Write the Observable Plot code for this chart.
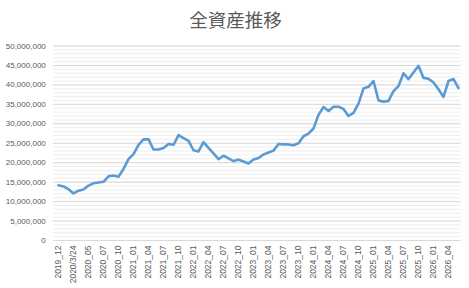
<!DOCTYPE html>
<html>
<head>
<meta charset="utf-8">
<script src="https://cdn.jsdelivr.net/npm/d3@7"></script>
<script src="https://cdn.jsdelivr.net/npm/@observablehq/plot@0.6"></script>
<style>
  html, body { margin: 0; padding: 0; background: #fff; }
  #wrap { width: 469px; height: 288px; position: relative; overflow: hidden; }
  #title { height: 30px; line-height: 40px; text-align: center; font-family: "Noto Sans CJK JP", sans-serif; font-size: 18.5px; color: #595959; position: relative; left: 1px; top: -1px;}
</style>
</head>
<body>
<div id="wrap">
  <div id="title">全資産推移</div>
  <div id="chart"></div>
</div>
<script>
// Total assets, in millions of yen, one value per period (81 points)
const totalMillions = [
  14.2, 13.9, 13.2, 12.1, 12.8, 13.1, 14.1, 14.7, 14.9, 15.1,
  16.5, 16.7, 16.4, 18.4, 20.9, 22.2, 24.6, 26.0, 26.0, 23.4,
  23.4, 23.8, 24.8, 24.6, 27.1, 26.3, 25.6, 23.2, 22.9, 25.3,
  23.8, 22.4, 20.9, 21.8, 21.1, 20.4, 20.8, 20.3, 19.8, 20.8,
  21.2, 22.1, 22.6, 23.1, 24.8, 24.7, 24.7, 24.5, 25.0, 26.8,
  27.5, 28.8, 32.3, 34.3, 33.3, 34.4, 34.4, 33.8, 32.0, 32.8,
  35.2, 39.1, 39.5, 41.0, 36.0, 35.7, 35.9, 38.4, 39.7, 43.0,
  41.5, 43.2, 44.9, 41.8, 41.6, 40.6, 38.9, 36.9, 41.0, 41.5,
  39.2
];
// Category labels shown on the axis (every third period)
const tickLabels = [
  "2019_12", "2020/3/24", "2020_05", "2020_07", "2020_10",
  "2021_01", "2021_04", "2021_07", "2021_10",
  "2022_01", "2022_04", "2022_07", "2022_10",
  "2023_01", "2023_04", "2023_07", "2023_10",
  "2024_01", "2024_04", "2024_07", "2024_10",
  "2025_01", "2025_04", "2025_07", "2025_10",
  "2026_01", "2026_04"
];
const yMajorTicks = d3.range(0, 50000001, 5000000);
const yMinorTicks = d3.range(0, 50000001, 1000000);

const data = totalMillions.map((v, i) => ({ i, value: v * 1e6 }));
const idx = data.map(d => d.i);
const labelIdx = tickLabels.map((_, k) => k * 3);

const chart = Plot.plot({
  width: 469,
  height: 258,
  marginTop: 15.5,
  marginBottom: 48,
  marginLeft: 54.8,
  marginRight: 8.4,
  style: { fontFamily: "'Liberation Sans', Arial, sans-serif", fontSize: "8px", color: "#595959", background: "#fff" },
  x: { type: "point", domain: idx, padding: 0.5 },
  y: { domain: [0, 50000000] },
  marks: [
    Plot.ruleY(yMinorTicks, { stroke: "#eeeeee", strokeWidth: 1, insetLeft: -1.8 }),
    Plot.ruleY(yMajorTicks, { stroke: "#d9d9d9", strokeWidth: 1, insetLeft: -1.8 }),
    Plot.axisY({ ticks: yMajorTicks, tickSize: 0, tickPadding: 9.5, tickFormat: d3.format(","), label: null }),
    Plot.axisX({ ticks: labelIdx, tickSize: 0, tickPadding: 5, tickRotate: -90, fontSize: 8.5, tickFormat: i => tickLabels[i / 3], label: null }),
    Plot.line(data, { x: "i", y: "value", stroke: "#5b9bd5", strokeWidth: 2.6, strokeLinejoin: "round", strokeLinecap: "round" })
  ]
});
document.getElementById("chart").appendChild(chart);
</script>
</body>
</html>
